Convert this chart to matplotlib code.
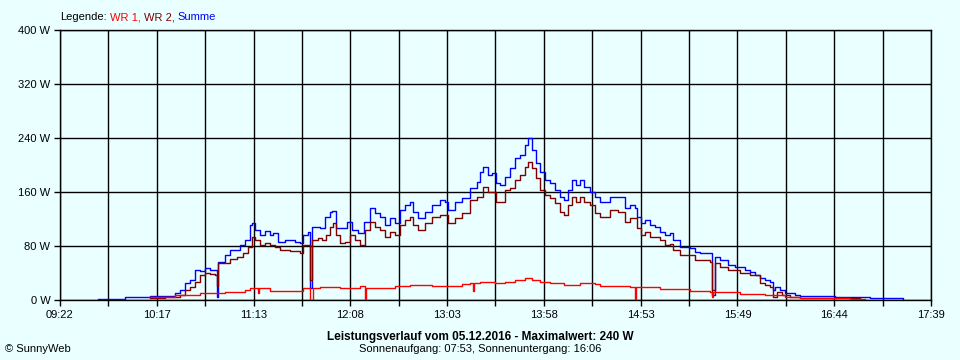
import numpy as np
import matplotlib.pyplot as plt

# Zeit in Minuten seit Mitternacht, Leistung in W
summe_t = [583.7, 598.5, 599.1, 613.4, 627.6, 630.5, 633.3, 636.2, 639.0, 641.9,
           644.7, 647.6, 650.5, 651.6, 652.2, 656.2, 659.0, 664.7, 667.6, 670.4,
           671.6, 673.3, 676.1, 679.0, 681.8, 683.6, 686.4, 690.4, 696.1, 699.0,
           700.7, 703.5, 704.7, 705.8, 710.4, 713.2, 716.1, 717.2, 719.5, 722.9,
           725.8, 728.6, 732.1, 735.5, 738.9, 741.8, 744.6, 747.5, 750.3, 753.2,
           756.0, 758.9, 761.7, 763.5, 766.3, 770.3, 774.3, 778.9, 781.7, 783.4,
           787.4, 791.4, 796.0, 800.0, 801.7, 803.4, 806.3, 808.5, 810.8, 813.1,
           816.0, 818.8, 821.7, 824.5, 827.4, 829.1, 831.4, 833.6, 835.9, 838.8,
           841.6, 844.5, 847.4, 849.6, 851.9, 854.2, 856.5, 858.8, 861.0, 864.5,
           867.3, 870.2, 873.0, 875.9, 880.4, 884.4, 887.3, 890.1, 891.3, 893.6,
           895.9, 898.7, 901.6, 904.4, 907.3, 910.1, 911.8, 915.8, 918.7, 921.5,
           924.4, 927.2, 932.9, 934.1, 935.8, 938.7, 943.2, 947.2, 952.9, 955.8,
           958.6, 961.5, 964.3, 967.2, 968.9, 970.0, 972.9, 975.7, 981.4, 984.3,
           1001.4, 1004.3, 1024.3, 1043.1]
summe_w = [1.5, 1.5, 4.4, 5.9, 10.4, 14.8, 25.2, 29.6, 44.4, 43.0,
           47.4, 44.4, 44.4, 4.4, 56.3, 66.7, 74.1, 81.5, 88.9, 111.1,
           114.1, 103.7, 96.3, 102.2, 96.3, 99.3, 85.9, 88.9, 85.9, 84.4,
           96.3, 100.7, 17.8, 108.1, 106.7, 123.0, 130.4, 131.9, 106.7, 106.7,
           115.6, 103.7, 99.3, 115.6, 136.3, 128.9, 123.0, 111.1, 121.5, 114.1,
           133.3, 140.7, 145.2, 130.4, 121.5, 130.4, 140.7, 148.1, 145.2, 133.3,
           145.2, 151.1, 165.9, 174.8, 189.6, 197.0, 185.2, 188.1, 173.3, 170.4,
           182.2, 195.6, 210.4, 214.8, 229.6, 240.0, 222.2, 203.0, 189.6, 177.8,
           173.3, 163.0, 152.6, 148.1, 163.0, 177.8, 170.4, 177.8, 167.4, 160.0,
           152.6, 145.2, 145.2, 152.6, 152.6, 136.3, 140.7, 136.3, 123.0, 114.1,
           118.5, 111.1, 108.1, 100.7, 96.3, 99.3, 88.9, 78.5, 78.5, 77.0,
           71.1, 69.6, 69.6, 7.4, 63.7, 59.3, 51.9, 48.9, 44.4, 41.5,
           37.0, 32.6, 29.6, 26.7, 14.8, 19.3, 14.8, 10.4, 7.4, 5.9,
           5.9, 4.4, 3.0, 1.5]

wr1_t = [613.4, 627.6, 641.9, 656.2, 667.6, 670.4, 675.0, 675.6, 681.8, 699.0,
         700.7, 704.7, 706.4, 710.4, 721.8, 733.2, 736.1, 736.7, 744.6, 753.2,
         761.7, 774.3, 791.4, 796.0, 797.7, 798.3, 801.7, 810.2, 816.0, 821.7,
         827.4, 831.4, 835.9, 841.6, 849.6, 858.8, 867.3, 870.2, 887.3, 890.1,
         890.7, 904.4, 921.5, 932.9, 934.1, 934.7, 950.1, 964.3, 975.7, 984.3,
         1012.8, 1021.4]
wr1_w = [4.4, 7.4, 10.4, 11.9, 14.8, 17.8, 10.4, 17.8, 13.8, 13.8,
         17.8, 0.0, 17.8, 19.3, 17.8, 20.7, 0.0, 17.8, 17.8, 20.7,
         22.2, 20.7, 23.7, 25.2, 13.3, 25.2, 26.7, 25.2, 26.7, 29.6,
         32.6, 29.6, 26.7, 25.2, 22.2, 25.2, 23.7, 20.7, 19.3, 0.0,
         19.3, 16.3, 13.3, 11.9, 4.4, 11.9, 8.9, 7.4, 4.4, 3.0,
         1.5, 1.5]

wr2_t = [613.4, 621.9, 627.6, 630.5, 633.3, 636.2, 639.0, 641.9, 644.7, 647.6,
         650.5, 651.6, 652.2, 656.2, 659.0, 663.0, 666.4, 669.3, 671.6, 673.3,
         676.1, 679.0, 681.8, 684.7, 687.6, 693.3, 699.0, 700.7, 704.7, 705.8,
         709.2, 711.5, 713.8, 716.1, 717.8, 719.5, 721.8, 724.6, 727.5, 730.3,
         733.2, 736.1, 738.9, 741.8, 744.6, 747.5, 750.3, 753.2, 756.0, 758.9,
         761.7, 763.5, 766.3, 770.3, 774.3, 778.9, 781.7, 783.4, 787.4, 791.4,
         796.0, 800.0, 803.4, 806.3, 808.5, 810.8, 813.1, 816.0, 818.8, 821.7,
         824.5, 827.4, 829.1, 831.4, 833.6, 835.9, 838.8, 841.6, 844.5, 847.4,
         849.6, 851.9, 854.2, 856.5, 858.8, 861.0, 864.5, 867.3, 870.2, 873.0,
         875.9, 880.4, 884.4, 887.3, 891.3, 893.6, 895.9, 898.7, 904.4, 907.3,
         910.1, 911.8, 915.8, 921.5, 924.4, 927.2, 932.9, 934.1, 935.8, 938.7,
         943.2, 950.1, 955.8, 961.5, 964.3, 967.2, 968.9, 971.2, 974.0, 978.6,
         984.3, 1018.6]
wr2_w = [3.0, 4.4, 4.9, 7.4, 14.8, 19.3, 26.7, 37.0, 40.0, 38.5,
         37.0, 20.7, 54.8, 54.8, 60.7, 63.7, 69.6, 78.5, 93.3, 88.9,
         81.5, 84.4, 81.5, 78.5, 74.1, 72.6, 69.6, 81.5, 29.6, 88.9,
         91.9, 88.9, 96.3, 108.1, 114.1, 96.3, 84.4, 85.9, 96.3, 88.9,
         81.5, 103.7, 115.6, 108.1, 103.7, 93.3, 100.7, 96.3, 111.1, 118.5,
         123.0, 111.1, 103.7, 114.1, 123.0, 125.9, 125.9, 114.1, 121.5, 128.9,
         148.1, 152.6, 167.4, 160.0, 160.0, 145.2, 145.2, 163.0, 165.9, 177.8,
         185.2, 197.0, 204.4, 195.6, 180.7, 163.0, 155.6, 151.1, 143.7, 130.4,
         125.9, 140.7, 152.6, 145.2, 152.6, 145.2, 140.7, 128.9, 123.0, 123.0,
         133.3, 130.4, 115.6, 121.5, 106.7, 96.3, 100.7, 93.3, 88.9, 81.5,
         83.0, 74.1, 66.7, 66.7, 59.3, 59.3, 56.3, 14.8, 54.8, 48.9,
         44.4, 40.0, 37.0, 25.2, 22.2, 19.3, 4.4, 11.9, 7.4, 4.4,
         3.0, 3.0]

x_labels = ['09:22', '10:17', '11:13', '12:08', '13:03', '13:58', '14:53',
            '15:49', '16:44', '17:39']
t_start = 9 * 60 + 22
t_end = 17 * 60 + 39
y_ticks = [0, 80, 160, 240, 320, 400]

bg = '#eaffff'
plt.rcParams['font.family'] = ['Liberation Sans', 'DejaVu Sans']
plt.rcParams['font.size'] = 8

fig = plt.figure(figsize=(9.6, 3.6), dpi=100, facecolor=bg)
ax = fig.add_axes([60 / 960, 60 / 360, 871 / 960, 270 / 360])
ax.set_facecolor(bg)

ax.plot(summe_t, summe_w, color='#0000ff', lw=1.0, drawstyle='steps-post', zorder=3)
ax.plot(wr2_t, wr2_w, color='#800000', lw=1.0, drawstyle='steps-post', zorder=4)
ax.plot(wr1_t, wr1_w, color='#ff0000', lw=1.0, drawstyle='steps-post', zorder=5)

ticks = np.linspace(t_start, t_end, 19)
ax.set_xticks(ticks)
ax.set_xticklabels([x_labels[i // 2] if i % 2 == 0 else '' for i in range(19)])
ax.set_xlim(t_start, t_end)
ax.set_ylim(0, 400)
ax.set_yticks(y_ticks)
ax.set_yticklabels([f'{v} W' for v in y_ticks])
ax.grid(True, color='black', lw=1)
ax.set_axisbelow(True)
ax.tick_params(length=4, width=1, color='black', pad=3, labelsize=8)
for s in ax.spines.values():
    s.set_color('black')
    s.set_linewidth(1)

# Legende oben links, farbige Teile nebeneinander
r = fig.canvas.get_renderer()
x = 60
for txt, col in [('Legende:', 'black'), ('WR 1,', '#ff0000'),
                 ('WR 2,', '#800000'), ('Summe', '#0000ff')]:
    t = fig.text(x / 960, 1 - 17 / 360, txt, color=col, va='center', fontsize=8)
    x = t.get_window_extent(r).x1 + 3

fig.text(0.5, 1 - 337 / 360, 'Leistungsverlauf vom 05.12.2016 - Maximalwert: 240 W',
         ha='center', va='center', fontsize=8.5, fontweight='bold')
fig.text(0.5, 1 - 349 / 360, 'Sonnenaufgang: 07:53, Sonnenuntergang: 16:06',
         ha='center', va='center', fontsize=8)
fig.text(5 / 960, 1 - 349 / 360, '© SunnyWeb', ha='left', va='center', fontsize=8)

fig.savefig('out.png', dpi=100, facecolor=bg)
